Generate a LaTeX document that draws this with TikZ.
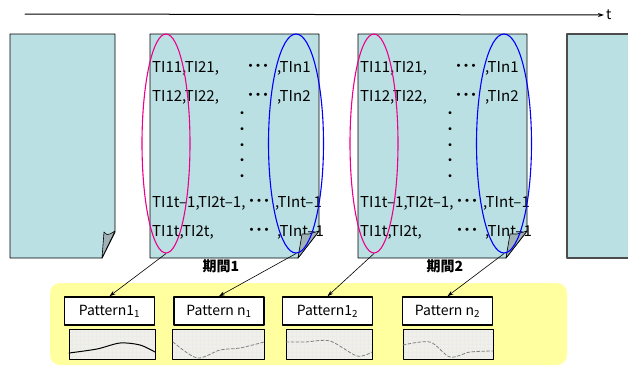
\documentclass[tikz,border=0pt]{standalone}
\usepackage{fontspec}
\setmainfont{Noto Sans CJK JP}
\usepackage{tikz}
\usetikzlibrary{arrows.meta,positioning,shapes.geometric}
\definecolor{pagefill}{RGB}{187,224,227}
\definecolor{foldfill}{RGB}{160,178,182}
\definecolor{trayfill}{RGB}{255,255,160}
\definecolor{plotfill}{RGB}{240,240,232}
\tikzset{
  sheet/.style={draw=black,fill=pagefill,line width=0.9pt},
  fold/.style={draw=black,fill=foldfill,line width=0.6pt},
  cell/.style={anchor=west,inner sep=0pt,font=\fontsize{15}{15}\selectfont},
  ring/.style={ellipse,draw,line width=1.1pt,inner sep=0pt},
  patbox/.style={draw,line width=1.6pt,fill=white,minimum width=90,
    minimum height=28,inner sep=0pt,font=\fontsize{14}{14}\selectfont},
  plotbox/.style={draw,line width=1pt},
  link/.style={-{Stealth[length=6pt,width=4pt]},line width=0.6pt},
  every node/.style={font=\fontsize{14}{16}\selectfont}
}

\begin{document}
\begin{tikzpicture}[x=1pt,y=-1pt,line cap=round,line join=round]
  \useasboundingbox (0,0) rectangle (628,367);

  % ---- time axis ----
  \coordinate (t0) at (25,14);
  \node[inner sep=0pt,anchor=west] (tlab) at (606,15) {t};
  \draw[link,line width=1pt,shorten >=2pt] (t0) -- (tlab.west);

  % ---- outer pages (empty) ----
  \draw[sheet] (10,34) -- (115,34) -- (115,232) -- (102,258) -- (10,258) -- cycle;
  \draw[fold] (102,258) -- (104,232) .. controls (107,235) .. (110,234) -- (115,231) -- cycle;
  \draw[sheet,draw=black!70,line width=1.2pt] (567,34) -- (640,34) -- (640,258) -- (567,258) -- cycle;

  % ---- data pages ----
  \foreach \x/\k/\lx in {150/1/221,358/2/445}{
    \draw[sheet] (\x,34) -- ++(169,0) -- ++(0,197) -- ++(-21,27) -- (\x,258) -- cycle;

    \node[cell] (r1a\k) at (\x+2,68) {TI11,TI21,};
    \node[cell,anchor=center] (r1b\k) at (\x+108,68) {\bfseries ･･･};
    \node[cell] (r1c\k) at (\x+127,68) {,TIn1};

    \node[cell] (r2a\k) at (\x+2,97) {TI12,TI22,};
    \node[cell,anchor=center] (r2b\k) at (\x+108,97) {\bfseries ･･･};
    \node[cell] (r2c\k) at (\x+127,97) {,TIn2};

    \foreach \y [count=\i] in {115,131,147,162,178}
      \node[inner sep=0pt] (vd\k\i) at (\x+92,\y) {\bfseries ･};

    \node[cell] (r3a\k) at (\x+2,203) {TI1t–1,TI2t–1,};
    \node[cell,anchor=center] (r3b\k) at (\x+109,203) {\bfseries ･･･};
    \node[cell] (r3c\k) at (\x+125,203) {,TInt–1};

    \node[cell] (r4a\k) at (\x+2,232) {TI1t,TI2t,};
    \node[cell,anchor=center] (r4b\k) at (\x+109,232) {\bfseries ･･･};
    \node[cell] (r4c\k) at (\x+127,232) {,TInt–1};

    % curled corner
    \draw[fold] (\x,258) ++(148,0) -- ++(4,-24) -- ++(7,0) -- ++(10,-3) -- cycle;

    % column groups
    \node[ring,draw=magenta,minimum width=48,minimum height=219] (lo\k) at (\x+16,143.5) {};
    \node[ring,draw=blue,minimum width=55,minimum height=219] (hi\k) at (\x+146,143.5) {};

    \node[font=\bfseries\fontsize{14}{14}\selectfont] (per\k) at (\lx,266) {期間\k};
  }

  % ---- pattern tray ----
  \fill[trayfill,rounded corners=10pt] (50,283) rectangle (567,365);

  \node[patbox] (pat11) at (109.5,311) {Pattern1\textsubscript{1}};
  \node[patbox] (patn1) at (219,311) {Pattern n\textsubscript{1}};
  \node[patbox] (pat12) at (327.5,311) {Pattern1\textsubscript{2}};
  \node[patbox] (patn2) at (447.5,311) {Pattern n\textsubscript{2}};

  \foreach \a/\b in {69/155,172/264,286/372,403/493}{
    \fill[plotfill] (\a,329) rectangle (\b,359);
    \draw[black!8,line width=0.3pt,step=4pt] (\a,329) grid (\b,359);
    \draw[plotbox] (\a,329) rectangle (\b,359);
  }

  % ---- curves ----
  \draw[line width=1pt] plot[smooth] coordinates {(69,353) (97,349) (120,343) (140,345) (155,352)};
  \draw[gray,densely dashed,line width=0.8pt] plot[smooth] coordinates {(173,342) (197,358) (220,350) (240,348) (264,342)};
  \draw[gray,densely dashed,line width=0.8pt] plot[smooth] coordinates {(286,342) (305,342) (330,341) (357,356) (372,352)};
  \draw[gray,densely dashed,line width=0.8pt] plot[smooth] coordinates {(403,345) (430,342) (450,357) (470,352) (493,351)};

  % ---- links ----
  \draw[link] (lo1.south) -- (pat11.north);
  \draw[link] (hi1.south) -- (patn1.north);
  \draw[link] (lo2.south) -- (pat12.north);
  \draw[link] (hi2.south) -- (patn2.north);
\end{tikzpicture}
\end{document}
